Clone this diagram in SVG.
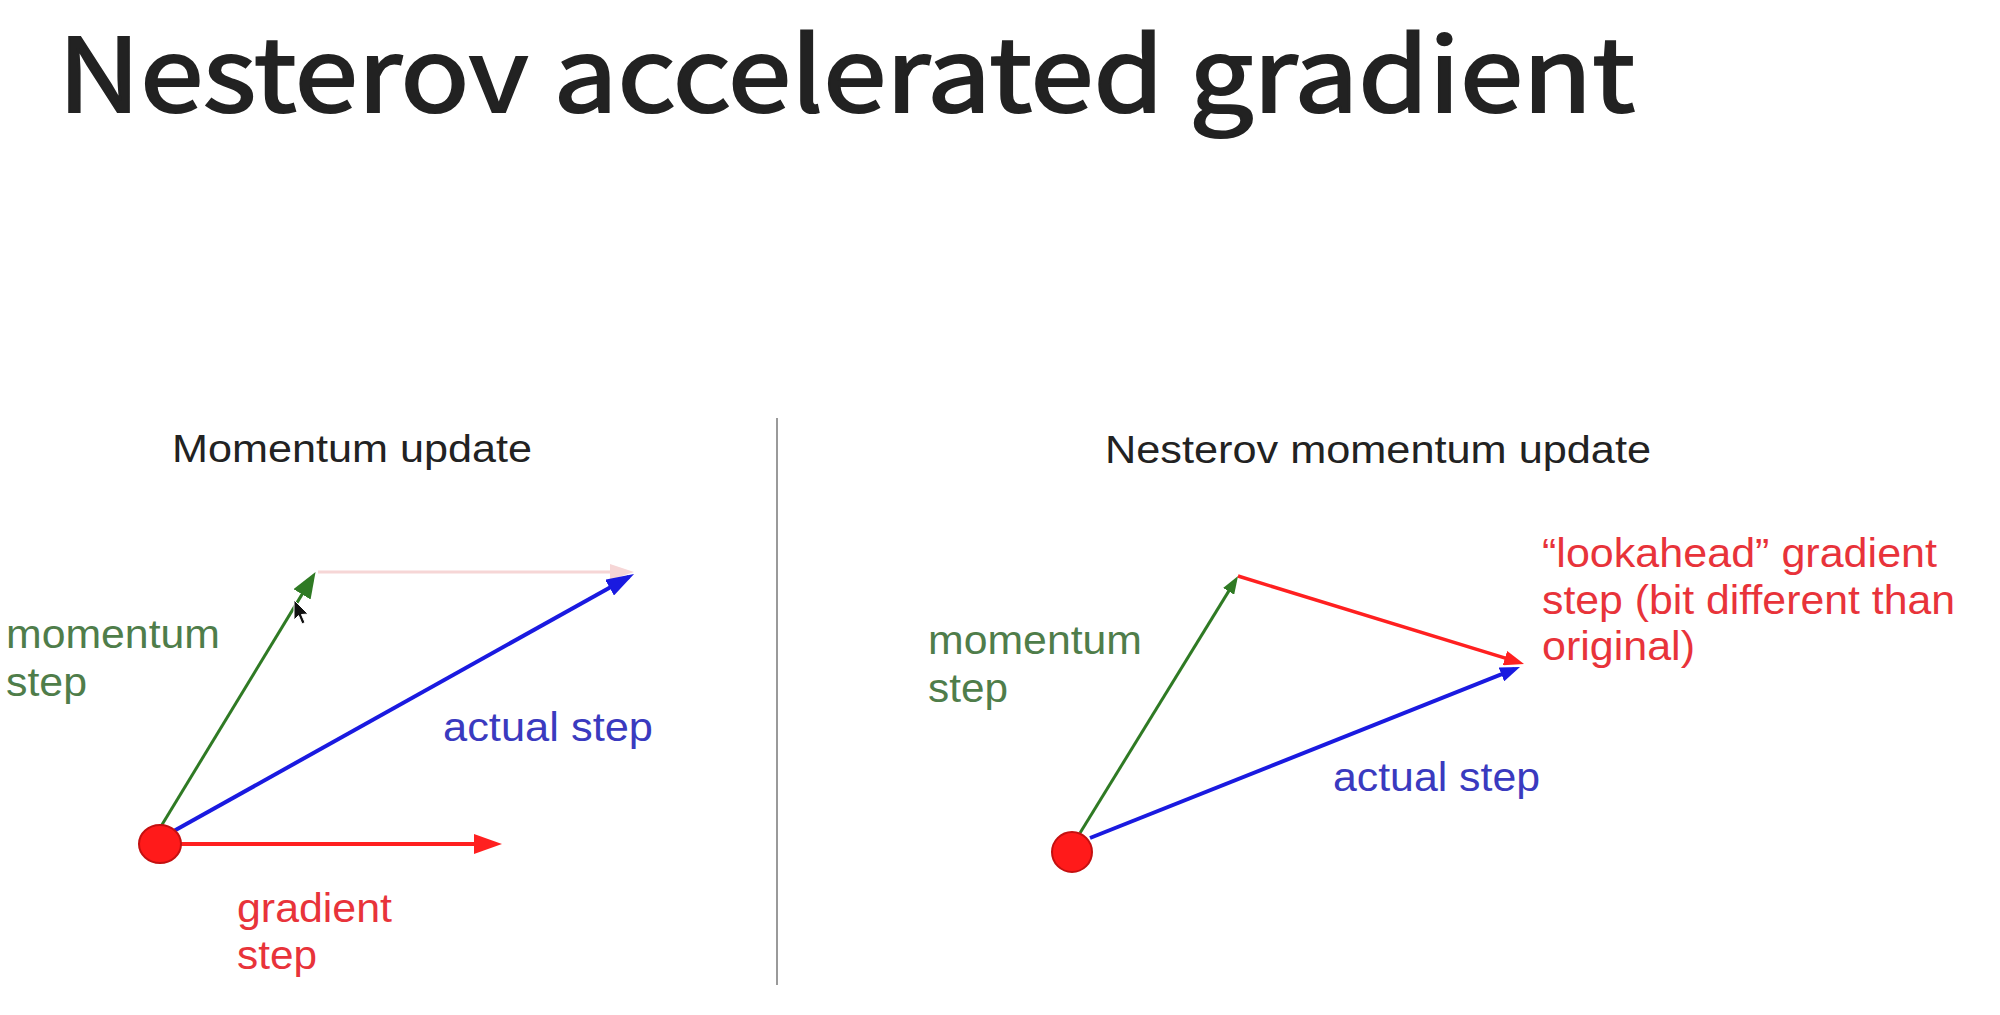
<svg xmlns="http://www.w3.org/2000/svg" width="2000" height="1015" viewBox="0 0 2000 1015">
<style>
.title{font-family:"Noto Sans CJK KR","Noto Sans",sans-serif;font-weight:400;fill:#222;stroke:#222;stroke-width:2.2px;}
.head{font-family:"Liberation Sans",Arial,sans-serif;font-size:38px;fill:#222;}
.lbl{font-family:"Liberation Sans",Arial,sans-serif;font-size:40px;}
.g{fill:#4f7d4a;}
.b{fill:#3a3abf;}
.r{fill:#e8333a;}
</style>
<defs>
<marker id="hGreenL" markerUnits="userSpaceOnUse" markerWidth="26" markerHeight="20" refX="19" refY="10" orient="auto"><path d="M0,0 L26,10 L0,20 z" fill="#2f7a24"/></marker>
<marker id="hBlueL" markerUnits="userSpaceOnUse" markerWidth="28" markerHeight="18" refX="22" refY="9" orient="auto"><path d="M0,0 L28,9 L0,18 z" fill="#1a1ae0"/></marker>
<marker id="hRedL" markerUnits="userSpaceOnUse" markerWidth="28" markerHeight="20" refX="22" refY="10" orient="auto"><path d="M0,0 L28,10 L0,20 z" fill="#ff2020"/></marker>
<marker id="hPink" markerUnits="userSpaceOnUse" markerWidth="24" markerHeight="16" refX="18" refY="8" orient="auto"><path d="M0,0 L24,8 L0,16 z" fill="#f6d6d6"/></marker>
<marker id="hGreenS" markerUnits="userSpaceOnUse" markerWidth="18" markerHeight="13" refX="12" refY="6.5" orient="auto"><path d="M0,0 L18,6.5 L0,13 z" fill="#2f7a24"/></marker>
<marker id="hRedS" markerUnits="userSpaceOnUse" markerWidth="20" markerHeight="15" refX="14" refY="7.5" orient="auto"><path d="M0,0 L20,7.5 L0,15 z" fill="#ff2020"/></marker>
<marker id="hBlueS" markerUnits="userSpaceOnUse" markerWidth="20" markerHeight="15" refX="14" refY="7.5" orient="auto"><path d="M0,0 L20,7.5 L0,15 z" fill="#1a1ae0"/></marker>
</defs>
<rect width="2000" height="1015" fill="#ffffff"/>
<text id="title" class="title" x="58" y="112" font-size="102" textLength="1577" lengthAdjust="spacingAndGlyphs">Nesterov accelerated gradient</text>
<line id="divider" x1="777" y1="418" x2="777" y2="985" stroke="#9a9a9a" stroke-width="2"/>
<g id="connectors" fill="none">
<line x1="318" y1="572" x2="628" y2="572" stroke="#f6d6d6" stroke-width="3" marker-end="url(#hPink)"/>
<line x1="160" y1="828" x2="311.9" y2="578.1" stroke="#2f7a24" stroke-width="3" marker-end="url(#hGreenL)"/>
<line x1="172" y1="832" x2="628.8" y2="576.9" stroke="#1a1ae0" stroke-width="4" marker-end="url(#hBlueL)"/>
<line x1="180" y1="844" x2="496" y2="844" stroke="#ff2020" stroke-width="4" marker-end="url(#hRedL)"/>
<line x1="1080" y1="833" x2="1234.9" y2="581.1" stroke="#2f7a24" stroke-width="3" marker-end="url(#hGreenS)"/>
<line x1="1238" y1="576" x2="1518.3" y2="662.2" stroke="#ff2020" stroke-width="3.5" marker-end="url(#hRedS)"/>
<line x1="1090" y1="838" x2="1514.4" y2="669.2" stroke="#1a1ae0" stroke-width="4" marker-end="url(#hBlueS)"/>
</g>
<g id="momentum-panel">
<text class="head" x="172" y="462" textLength="360" lengthAdjust="spacingAndGlyphs">Momentum update</text>
<ellipse id="start-left" cx="160" cy="844" rx="21" ry="19" fill="#ff1a1a" stroke="#c41010" stroke-width="2"/>
<text class="lbl g" x="6" y="648" textLength="214" lengthAdjust="spacingAndGlyphs">momentum</text>
<text class="lbl g" x="6" y="696" textLength="81" lengthAdjust="spacingAndGlyphs">step</text>
<text class="lbl b" x="443" y="741" textLength="210" lengthAdjust="spacingAndGlyphs">actual step</text>
<text class="lbl r" x="237" y="922" textLength="155" lengthAdjust="spacingAndGlyphs">gradient</text>
<text class="lbl r" x="237" y="969" textLength="80" lengthAdjust="spacingAndGlyphs">step</text>
<path id="cursor" d="M294,600 L294,620 L298.5,615.5 L302,624 L305,622.5 L301.5,614.5 L308,614 Z" fill="#111" stroke="#ffffff" stroke-width="1"/>
</g>
<g id="nesterov-panel">
<text class="head" x="1105" y="463" textLength="546" lengthAdjust="spacingAndGlyphs">Nesterov momentum update</text>
<ellipse id="start-right" cx="1072" cy="852" rx="20" ry="20" fill="#ff1a1a" stroke="#c41010" stroke-width="2"/>
<text class="lbl g" x="928" y="654" textLength="214" lengthAdjust="spacingAndGlyphs">momentum</text>
<text class="lbl g" x="928" y="702" textLength="80" lengthAdjust="spacingAndGlyphs">step</text>
<text class="lbl b" x="1333" y="791" textLength="207" lengthAdjust="spacingAndGlyphs">actual step</text>
<text class="lbl r" x="1542" y="567" textLength="395" lengthAdjust="spacingAndGlyphs">“lookahead” gradient</text>
<text class="lbl r" x="1542" y="614" textLength="413" lengthAdjust="spacingAndGlyphs">step (bit different than</text>
<text class="lbl r" x="1542" y="660" textLength="153" lengthAdjust="spacingAndGlyphs">original)</text>
</g>
</svg>
